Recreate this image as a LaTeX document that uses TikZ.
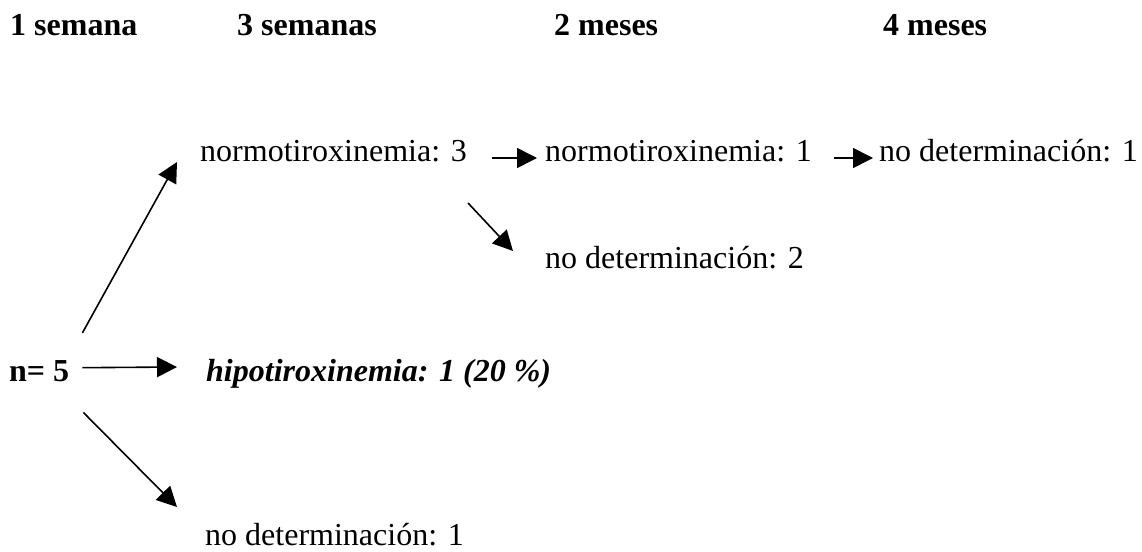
\documentclass[tikz,border=0pt]{standalone}
\usepackage{fontspec}
\setmainfont{Liberation Serif}
\usepackage{tikz}
\usetikzlibrary{arrows.meta, positioning}

\begin{document}
\begin{tikzpicture}[x=1pt, y=1pt,
        txt/.style={anchor=base west, inner sep=0pt, font=\fontsize{32}{38}\selectfont},
        hdr/.style={txt, font=\fontsize{32}{38}\selectfont\bfseries},
        arr/.style={-{Triangle[length=20pt, width=20pt]}, line width=1.6pt}]
        \useasboundingbox (0,0) rectangle (1142,-551);

        % Headers
        \foreach \x/\t/\n in {10/1 semana/s1, 237/3 semanas/s3, 554/2 meses/m2, 883/4 meses/m4} {
            \node[hdr] (\n) at (\x,-36) {\t};
        }

        % Start and branches
        \node[hdr] (n5) at (9,-381) {n= 5};
        \node[txt] (norm3) at (200,-161) {normotiroxinemia: 3};
        \node[txt, font=\fontsize{32}{38}\selectfont\bfseries\itshape] (hipo) at (206,-381) {hipotiroxinemia: 1 (20 \%)};
        \node[txt] (nodet1b) at (205,-545) {no determinación: 1};

        % Follow-up
        \node[txt] (norm1) at (545,-161) {normotiroxinemia: 1};
        \node[txt] (nodet2) at (545,-268) {no determinación: 2};
        \node[txt] (nodet1a) at (879,-161) {no determinación: 1};

        % Arrows
        \draw[arr] ([shift={(13,27)}]n5.north east) -- ([shift={(-23,-1)}]norm3.base west);
        \draw[arr] ([shift={(13,3)}]n5.east) -- ([shift={(-29,14)}]hipo.base west);
        \draw[arr] ([shift={(14,-31)}]n5.south east) -- ([shift={(-28,38)}]nodet1b.base west);
        \draw[arr] ([shift={(25,3)}]norm3.base east) -- ([shift={(-8,3)}]norm1.base west);
        \draw[arr] ([shift={(1,-42)}]norm3.base east) -- ([shift={(-32,17)}]nodet2.base west);
        \draw[arr] ([shift={(22,3)}]norm1.base east) -- ([shift={(-6,3)}]nodet1a.base west);
    \end{tikzpicture}
\end{document}
